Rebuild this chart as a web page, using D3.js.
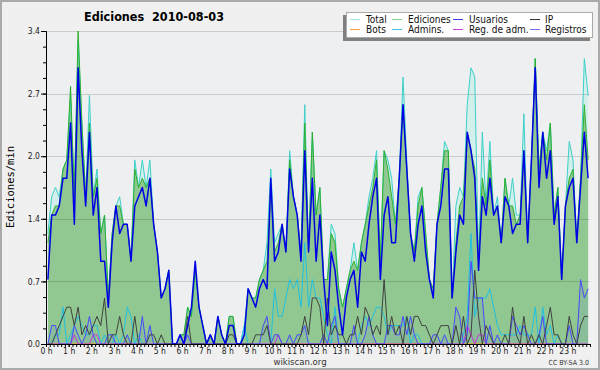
<!DOCTYPE html>
<html>
<head>
<meta charset="utf-8">
<script src="https://cdn.jsdelivr.net/npm/d3@7"></script>
<style>
  body { margin: 0; background: #f0f0f0; }
  svg { display: block; font-family: "DejaVu Sans Condensed", "DejaVu Sans", sans-serif; font-stretch: condensed; }
</style>
</head>
<body>
<svg id="chart" width="600" height="370"></svg>
<script>
// one value per 10 minutes, edits per minute
var total = [
  1.2,1.6,1.7,1.6,1.9,2.0,2.7,1.6,3.3,2.4,1.6,2.7,
  1.6,1.9,1.2,1.4,0.5,1.2,1.5,1.6,1.3,1.3,0.9,2.0,
  1.7,2.0,1.7,2.0,1.3,1.0,0.5,0.6,0.8,0,0,0.1,
  0.1,0.4,0.3,0.8,0.4,0.2,0,0.1,0,0.3,0.1,0,
  0.3,0.3,0,0,0.2,0.6,0.5,0.5,0.7,0.8,1.1,1.9,
  1.1,1.2,1.3,1.0,2.1,1.6,1.4,1.0,2.6,1.0,2.3,1.4,
  1.7,0.7,0.7,1.3,1.2,0.6,0.4,0.6,0.8,1.1,0.8,1.1,
  1.3,1.6,1.8,2.1,0.9,2.1,2.0,1.8,1.3,1.8,2.9,2.0,
  1.2,1.0,1.6,1.7,1.2,0.7,0.6,1.3,1.7,2.2,2.1,0.5,
  1.5,1.7,1.6,2.6,3.0,2.9,0.9,2.3,1.5,2.2,1.4,1.6,
  1.1,1.8,1.5,1.8,1.4,1.4,2.5,1.1,2.0,3.1,1.9,2.3,
  2.1,2.4,1.4,1.7,0.7,1.5,2.2,2.0,1.1,1.8,3.1,2.7
];
var ediciones = [
  1.1,1.4,1.5,1.5,1.9,2.0,2.8,1.6,3.4,2.4,1.6,2.4,
  1.6,1.8,1.2,1.4,0.5,1.2,1.5,1.5,1.3,1.3,0.9,1.9,
  1.7,1.8,1.7,1.8,1.3,1.0,0.5,0.6,0.8,0,0,0.1,
  0.1,0.4,0.3,0.8,0.4,0.2,0,0.1,0,0.3,0.1,0,
  0.3,0.3,0,0,0.1,0.6,0.5,0.5,0.7,0.8,0.9,1.7,
  1.0,1.1,1.3,1.0,2.0,1.6,1.4,1.0,2.4,1.0,2.3,1.4,
  1.7,0.7,0.7,1.2,1.1,0.6,0.4,0.6,0.8,0.9,0.8,1.1,
  1.3,1.5,1.7,2.0,0.9,2.1,1.9,1.6,1.3,1.8,2.6,1.9,
  1.2,1.0,1.5,1.7,1.2,0.7,0.6,1.3,1.7,2.1,2.1,0.5,
  1.1,1.5,1.6,2.3,2.1,1.9,0.9,1.8,1.5,2.0,1.4,1.5,
  1.1,1.8,1.5,1.5,1.3,1.4,2.1,1.1,2.0,3.1,1.9,2.3,
  2.0,2.4,1.4,1.7,0.7,1.5,1.8,1.9,1.1,1.8,2.6,2.0
];
var usuarios = [
  0.7,1.4,1.4,1.5,1.8,1.8,2.4,1.3,3.0,2.1,1.5,2.3,
  1.4,1.7,0.9,0.9,0.4,1.1,1.5,1.2,1.3,1.3,0.9,1.5,
  1.6,1.7,1.5,1.8,1.3,1.0,0.5,0.6,0.8,0,0,0.1,
  0,0.2,0.4,0.9,0.4,0.2,0,0.1,0,0.3,0.1,0,
  0.2,0.2,0,0,0.1,0.6,0.5,0.4,0.6,0.7,0.6,1.8,
  0.9,1.0,1.3,1.0,1.9,1.6,1.4,0.9,2.1,1.0,1.8,0.9,
  1.4,0.7,0.2,1.0,0.8,0.4,0.1,0.5,0.7,0.8,0.4,1.0,
  0.9,1.3,1.6,1.8,0.7,1.4,1.6,1.1,1.1,1.8,2.6,1.9,
  1.2,0.9,1.3,1.5,1.0,0.7,0.5,1.3,1.5,1.9,1.9,0.5,
  1.0,1.4,1.3,2.3,2.1,1.8,0.8,1.6,1.4,1.8,1.4,1.5,
  1.1,1.6,1.5,1.2,1.3,1.3,2.1,1.1,2.0,3.0,1.7,2.3,
  1.8,2.1,1.3,1.6,0.7,1.5,1.7,1.8,1.1,1.7,2.3,1.8
];
var ip = [
  0,0,0.1,0.2,0.3,0.4,0.4,0.2,0.4,0.1,0.2,0.1,
  0.2,0.3,0.2,0.5,0,0.1,0.1,0.3,0.1,0,0,0.3,
  0,0,0,0.1,0.1,0,0.1,0,0,0,0,0,
  0,0.3,0,0,0,0,0,0.1,0,0,0,0,
  0.1,0.1,0,0,0,0,0,0.1,0.1,0.1,0.2,0,
  0,0,0,0,0,0,0,0.1,0.3,0.1,0.5,0.5,
  0.4,0,0.5,0.1,0.2,0.1,0.1,0,0.1,0.1,0.3,0.1,
  0.4,0.3,0.1,0.2,0.1,0.7,0.1,0.3,0.1,0.2,0,0.3,
  0.1,0.3,0.3,0.2,0.2,0.1,0,0.1,0.2,0.2,0.2,0,
  0.2,0,0.3,0,0.1,0.8,0.3,0,0.2,0.1,0,0,
  0,0.1,0,0.4,0.1,0,0.3,0,0.1,0,0.1,0,
  0.2,0.4,0.1,0.1,0,0,0.3,0.1,0,0.2,0.3,0.3
];
var bots = [
  0,0,0,0,0,0,0,0,0,0,0,0,
  0,0,0,0,0,0,0,0,0,0,0,0,
  0,0,0,0,0,0,0,0,0,0,0,0,
  0,0,0,0,0,0,0,0,0,0,0,0,
  0,0,0,0,0,0,0,0,0,0,0,0,
  0,0,0,0,0,0,0,0,0,0,0,0,
  0,0,0,0,0,0,0,0,0,0,0,0,
  0,0,0,0,0,0,0,0,0,0,0,0,
  0,0,0,0,0,0,0,0,0,0,0,0,
  0,0,0,0,0,0,0,0,0,0,0,0,
  0,0,0,0,0,0,0,0,0,0,0,0,
  0,0,0,0,0,0,0,0,0,0,0,0
];
var admins = [
  0,0,0.1,0.1,0.4,0,0.1,0.2,0.3,0.2,0.1,0.1,
  0.2,0.2,0,0.1,0,0,0.1,0,0.1,0.4,0.3,0,
  0.1,0,0,0,0,0,0,0,0,0,0,0,
  0,0,0,0,0,0,0,0,0,0,0,0,
  0,0,0,0,0.2,0,0,0,0,0,0,0,
  0.6,0.3,0.3,0.5,0.7,0.6,0.7,0.4,1.1,0.4,0.7,0.5,
  0.5,0.3,0.1,0,0.4,0,0,0,0,0,0,0.2,
  0.3,0.2,0.3,0.4,0.4,0.3,0.1,0.2,0.2,0.2,0.2,0.3,
  0,0.1,0.1,0,0,0,0,0,0,0,0,0,
  0,0,0.1,0.3,1.2,0.3,0.5,0.5,0.5,0.6,0.4,0.2,
  0.1,0.1,0.1,0.1,0.1,0.2,0.1,0.1,0.1,0.4,0,0.4,
  0.1,0.2,0,0.1,0,0,0,0,0,0,0,0
];
var regAdm = [
  0,0,0,0,0,0,0,0.1,0,0,0,0,
  0.1,0.1,0,0,0,0,0,0,0,0,0,0,
  0,0,0,0,0,0,0,0,0,0,0,0,
  0,0,0,0,0,0,0,0,0,0,0,0,
  0,0,0,0,0,0,0,0,0,0,0,0,
  0,0.1,0,0,0,0,0,0,0,0,0,0,
  0,0,0,0,0,0,0,0,0,0,0,0,
  0,0,0,0,0,0,0,0,0,0,0,0,
  0,0,0,0,0,0,0,0,0,0,0,0,
  0,0,0,0.2,0.1,0,0.1,0.1,0,0,0,0,
  0,0,0,0,0,0,0,0,0,0,0,0,
  0,0,0,0,0,0,0,0,0,0,0,0
];
var registros = [
  0,0.2,0.2,0,0,0,0,0.2,0.1,0,0.1,0.3,
  0.1,0,0,0,0.1,0.1,0,0,0,0.1,0,0,
  0,0.3,0,0.2,0,0,0,0,0,0,0,0.1,
  0,0.1,0,0,0,0,0,0,0,0,0,0,
  0,0,0,0,0,0,0,0,0,0.2,0.3,0,
  0.1,0.1,0,0,0.1,0,0.1,0.1,0.2,0,0,0,
  0,0.1,0,0.2,0.3,0,0,0,0,0.2,0,0,
  0.1,0.3,0.1,0,0,0,0.2,0.2,0.1,0.1,0.3,0.1,
  0.3,0.1,0,0,0,0,0.1,0.1,0,0.1,0,0,
  0.4,0.3,0,0.1,0.9,0.5,0.5,0.5,0,0.2,0,0.1,
  0,0,0,0.3,0.2,0.1,0.2,0.1,0,0,0.1,0.3,
  0,0,0,0,0,0,0.2,0,0,0.7,0.5,0.6
];

var hours = [0,1,2,3,4,5,6,7,8,9,10,11,12,13,14,15,16,17,18,19,20,21,22,23];
var yTicks = [0, 0.68, 1.36, 2.04, 2.72, 3.4];

var legendNames = ["Total", "Ediciones", "Usuarios", "IP", "Bots", "Admins.", "Reg. de adm.", "Registros"];
var legendColors = ["#a8e4e0", "#8ed08e", "#3a3ae6", "#333333", "#f5a040", "#3cc8e0", "#d040e0", "#7070f0"];

var svg = d3.select("#chart"),
  width = +svg.attr("width"),
  height = +svg.attr("height");

var plotL = 46, plotR = 590, plotT = 31, plotB = 344;

var x = d3.scaleLinear().domain([0, 1440]).range([plotL, plotR]);
var y = d3.scaleLinear().domain([0, 3.4]).range([plotB, plotT]);

// background + frame
svg.append("rect")
  .attr("x", 1).attr("y", 1)
  .attr("width", width - 2).attr("height", height - 2)
  .attr("fill", "#f0f0f0")
  .attr("stroke", "#aaaaaa")
  .attr("stroke-width", 2);

svg.append("rect")
  .attr("x", plotL).attr("y", plotT)
  .attr("width", plotR - plotL).attr("height", plotB - plotT)
  .attr("fill", "#edeff1");

var px = (d, i) => x(i * 10 + 5);

var area = (vals) => d3.area().x(px).y0(plotB).y1((d) => y(d))(vals);
var line = (vals) => d3.line().x(px).y((d) => y(d))(vals);

// filled areas
svg.append("path").attr("d", area(total)).attr("fill", "#d3efec");
svg.append("path").attr("d", area(ediciones)).attr("fill", "#91c891");
svg.append("path").attr("d", area(registros)).attr("fill", "rgba(70,70,255,0.08)");

// grid
svg.append("g")
  .selectAll("line")
  .data(yTicks.slice(1))
  .enter()
  .append("line")
  .attr("x1", plotL).attr("x2", plotR)
  .attr("y1", (d) => Math.round(y(d)) + 0.5)
  .attr("y2", (d) => Math.round(y(d)) + 0.5)
  .attr("stroke", "rgba(0,0,0,0.15)");

// lines
var lines = [
  [total, "#3cd0c8", 1],
  [ediciones, "#2eb02e", 1],
  [bots, "#ff9900", 1],
  [admins, "#20c0e0", 1],
  [regAdm, "#cc33dd", 1],
  [registros, "#4848ff", 1],
  [ip, "#404040", 1],
  [usuarios, "#0000e6", 1.5]
];
svg.append("g")
  .selectAll("path")
  .data(lines)
  .enter()
  .append("path")
  .attr("d", (d) => line(d[0]))
  .attr("fill", "none")
  .attr("stroke", (d) => d[1])
  .attr("stroke-width", (d) => d[2])
  .attr("stroke-linejoin", "round");

// axes
svg.append("g")
  .attr("class", "axis")
  .attr("transform", `translate(0,${plotB})`)
  .call(d3.axisBottom(x).tickValues(d3.range(0, 1441, 10)).tickSize(3).tickSizeOuter(0).tickFormat(""));

svg.append("g")
  .attr("class", "axis")
  .attr("transform", `translate(0,${plotB})`)
  .call(d3.axisBottom(x).tickValues(hours.map((h) => h * 60)).tickSize(3).tickPadding(1).tickSizeOuter(0)
    .tickFormat((d, i) => hours[i] + " h"));

svg.append("g")
  .attr("class", "axis")
  .attr("transform", `translate(${plotL},0)`)
  .call(d3.axisLeft(y).tickValues(d3.range(0, 21).map((k) => k * 0.17)).tickSize(3).tickSizeOuter(0).tickFormat(""));

svg.append("g")
  .attr("class", "axis")
  .attr("transform", `translate(${plotL},0)`)
  .call(d3.axisLeft(y).tickValues(yTicks).tickSize(5).tickPadding(1).tickSizeOuter(0)
    .tickFormat((d) => d.toFixed(1)));

svg.selectAll(".axis .domain").attr("stroke", "#000");
svg.selectAll(".axis .tick line").attr("stroke", "#000");
svg.selectAll(".axis .tick text")
  .attr("font-family", "DejaVu Sans Condensed, DejaVu Sans, sans-serif")
  .attr("font-size", 8.5)
  .attr("fill", "#222");

// title
svg.append("text")
  .attr("x", 154).attr("y", 21)
  .attr("text-anchor", "middle")
  .attr("font-weight", "bold")
  .attr("font-size", 12.5)
  .style("white-space", "pre")
  .text("Ediciones  2010-08-03");

// y title
svg.append("text")
  .attr("transform", "translate(14,187) rotate(-90)")
  .attr("text-anchor", "middle")
  .attr("font-size", 10.5)
  .attr("font-family", "DejaVu Sans Mono, monospace")
  .text("Ediciones/min");

// footer
svg.append("text")
  .attr("x", 300).attr("y", 364.5)
  .attr("text-anchor", "middle")
  .attr("font-size", 9.5)
  .attr("fill", "#333")
  .text("wikiscan.org");

svg.append("text")
  .attr("x", 589).attr("y", 364.5)
  .attr("text-anchor", "end")
  .attr("font-size", 7)
  .attr("fill", "#333")
  .text("CC BY-SA 3.0");

// legend
var lg = svg.append("g");
lg.append("rect")
  .attr("x", 343).attr("y", 15)
  .attr("width", 247).attr("height", 26)
  .attr("fill", "#808080");
lg.append("rect")
  .attr("x", 346.5).attr("y", 12.5)
  .attr("width", 246).attr("height", 25)
  .attr("fill", "#fff")
  .attr("stroke", "#aaa");

var colSwatch = [350, 392, 453, 530];
var colText = [366, 408, 469, 545];

var item = lg.selectAll("g.item")
  .data(legendNames)
  .enter()
  .append("g")
  .attr("class", "item")
  .attr("transform", (d, i) => `translate(0,${i < 4 ? 19.5 : 29.5})`);

item.append("line")
  .attr("x1", (d, i) => colSwatch[i % 4])
  .attr("x2", (d, i) => colSwatch[i % 4] + 10)
  .attr("stroke", (d, i) => legendColors[i])
  .attr("stroke-width", 1);

item.append("text")
  .attr("x", (d, i) => colText[i % 4])
  .attr("y", 3.3)
  .attr("font-size", 10)
  .attr("fill", "#111")
  .text((d) => d);
</script>
</body>
</html>
